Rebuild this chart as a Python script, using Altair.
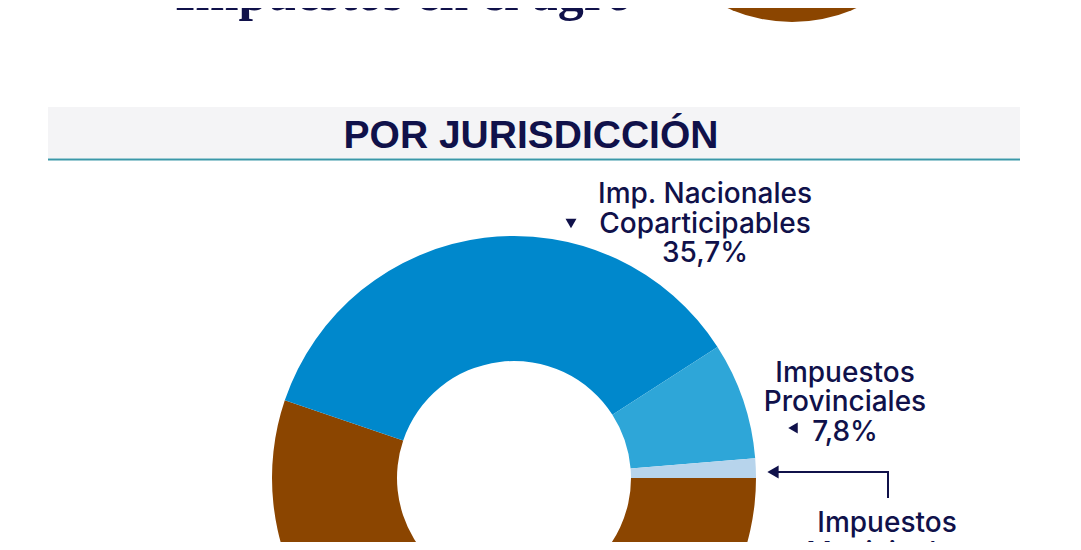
import math
import altair as alt
import pandas as pd

# ---------------- data ----------------
categories = [
    "Derechos de Exportación",
    "Imp. Nacionales Coparticipables",
    "Impuestos Provinciales",
    "Impuestos Municipales",
]
shares = [55.2, 35.7, 7.8, 1.3]
colors = ["#8B4500", "#0088CC", "#2EA6D8", "#B7D4EC"]
header_title = "POR JURISDICCIÓN"
page_title = "Impuestos en el agro"

NAVY = "#10114A"
BROWN = colors[0]
M = 8  # page margin (page coords -> svg coords)


def pct(v):
    return f"{v:.1f}".replace(".", ",") + "%"


donut_df = pd.DataFrame({
    "cat": categories,
    "value": shares,
    "ord": list(range(len(categories))),
})

one = pd.DataFrame({"k": [0]})

# top (cut) title and donut
top_title = alt.Chart(one).mark_text(
    font="Liberation Serif", fontSize=52, fontWeight="bold", color=NAVY,
    align="left", baseline="alphabetic"
).encode(x=alt.value(175 - M), y=alt.value(10 - M), text=alt.value(page_title))

top_donut = alt.Chart(one).mark_arc(
    radius=156, theta=0, theta2=2 * math.pi, color=BROWN
).encode(x=alt.value(792 - M), y=alt.value(-134 - M))

# header band
band = alt.Chart(one).mark_rect(color="#F4F4F6").encode(
    x=alt.value(48 - M), x2=alt.value(1020 - M),
    y=alt.value(107 - M), y2=alt.value(158 - M))
band_line = alt.Chart(one).mark_rule(color="#3B97A8", strokeWidth=2).encode(
    x=alt.value(48 - M), x2=alt.value(1020 - M), y=alt.value(159.5 - M))
band_text = alt.Chart(one).mark_text(
    font="Liberation Sans", fontSize=39, fontWeight="bold", color=NAVY,
    align="center", baseline="alphabetic"
).encode(x=alt.value(531 - M), y=alt.value(148 - M), text=alt.value(header_title))

# main donut
donut = alt.Chart(donut_df).mark_arc(radius=242, radius2=117).encode(
    theta=alt.Theta("value:Q", stack=True,
                    scale=alt.Scale(range=[math.pi / 2, math.pi / 2 + 2 * math.pi])),
    color=alt.Color("cat:N", scale=alt.Scale(domain=categories, range=colors), legend=None),
    order=alt.Order("ord:Q"),
    x=alt.value(514 - M), y=alt.value(478 - M),
)

label_style = dict(font="Inter", fontSize=28, fontWeight=500, color=NAVY,
                   align="center", baseline="alphabetic", lineBreak="\n", lineHeight=29.5)

lab_nac = alt.Chart(one).mark_text(**label_style).encode(
    x=alt.value(705 - M), y=alt.value(203 - M),
    text=alt.value("Imp. Nacionales\nCoparticipables\n" + pct(shares[1])))
lab_prov = alt.Chart(one).mark_text(**label_style).encode(
    x=alt.value(845 - M), y=alt.value(381.5 - M),
    text=alt.value("Impuestos\nProvinciales\n" + pct(shares[2])))
lab_mun = alt.Chart(one).mark_text(**label_style).encode(
    x=alt.value(887 - M), y=alt.value(532 - M),
    text=alt.value("Impuestos\nMunicipales\n" + pct(shares[3])))

tri_down = alt.Chart(one).mark_point(shape="triangle-down", filled=True, size=120,
                                     color=NAVY, opacity=1).encode(
    x=alt.value(571 - M), y=alt.value(223.5 - M))
tri_left = alt.Chart(one).mark_point(shape="triangle-left", filled=True, size=120,
                                     color=NAVY, opacity=1).encode(
    x=alt.value(793 - M), y=alt.value(428 - M))

arrow_h = alt.Chart(one).mark_rule(color=NAVY, strokeWidth=2).encode(
    x=alt.value(774 - M), x2=alt.value(888 - M), y=alt.value(472 - M))
arrow_v = alt.Chart(one).mark_rule(color=NAVY, strokeWidth=2).encode(
    x=alt.value(888 - M), y=alt.value(471 - M), y2=alt.value(498 - M))
arrow_head = alt.Chart(one).mark_point(shape="triangle-left", filled=True, size=170,
                                       color=NAVY, opacity=1).encode(
    x=alt.value(773 - M), y=alt.value(472 - M))

chart = alt.layer(
    top_donut, top_title, band, band_line, band_text, donut,
    lab_nac, lab_prov, lab_mun, tri_down, tri_left, arrow_h, arrow_v, arrow_head
).resolve_scale(theta="independent", color="independent").properties(
    width=1065, height=534, padding=0, autosize="none", background="white"
).configure_view(strokeWidth=0)

chart.save("out.html", embed_options={"renderer": "svg", "actions": False})
